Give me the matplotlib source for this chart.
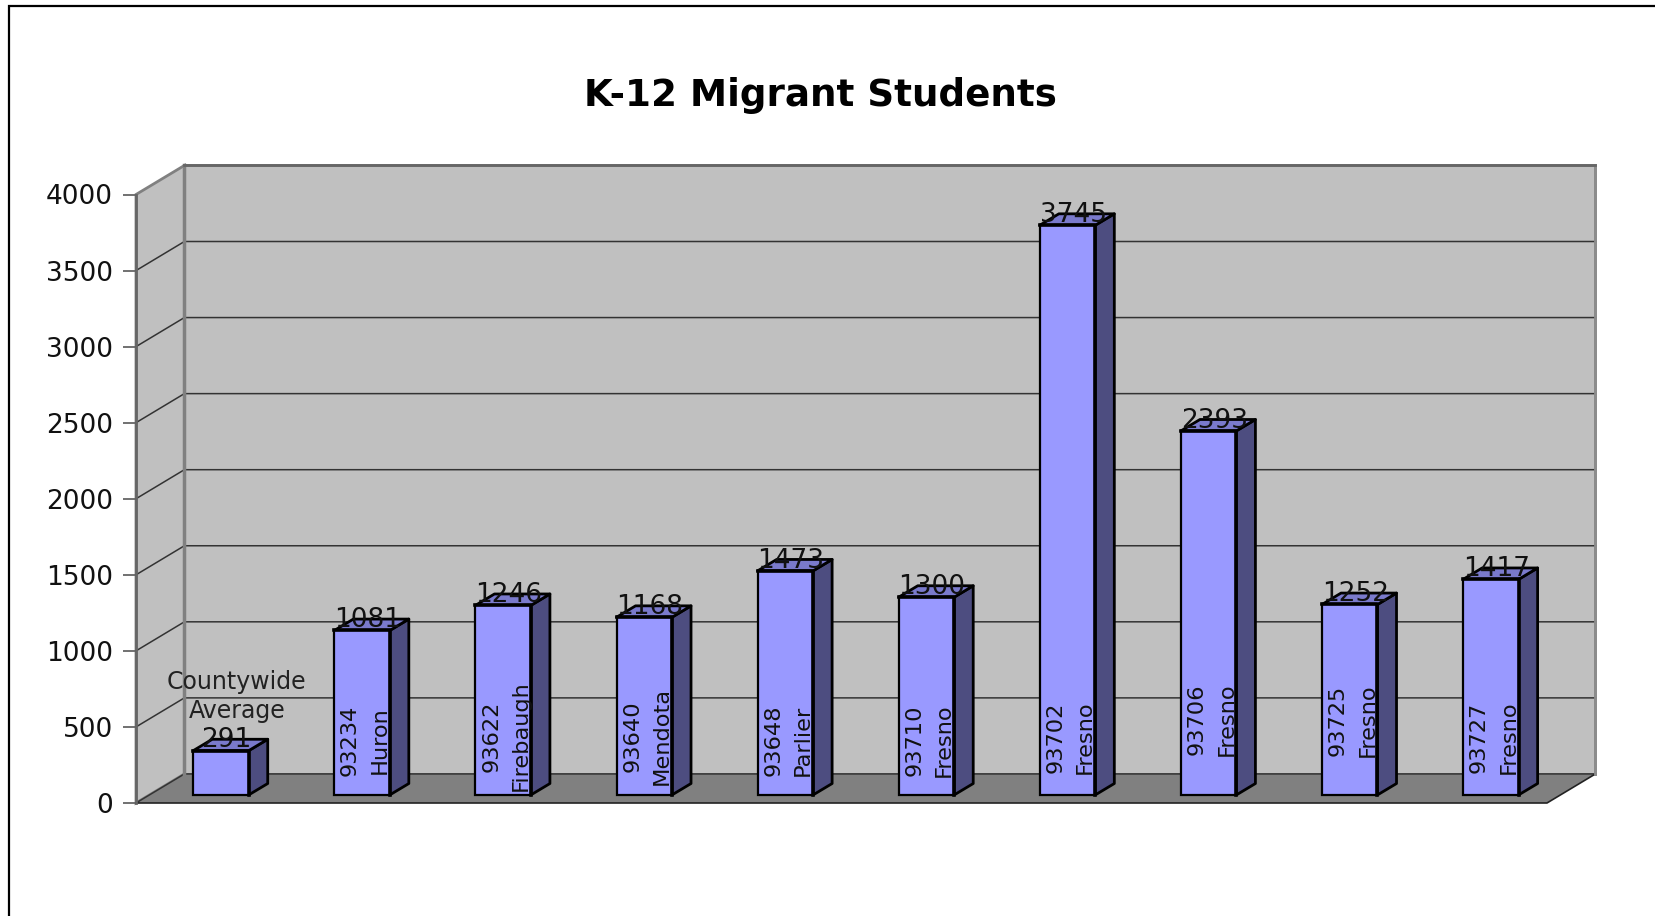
import matplotlib
matplotlib.use('Agg')
import matplotlib.pyplot as plt
from matplotlib.patches import Polygon, Rectangle

zips = ['', '93234', '93622', '93640', '93648', '93710', '93702', '93706', '93725', '93727']
towns = ['', 'Huron', 'Firebaugh', 'Mendota', 'Parlier', 'Fresno', 'Fresno', 'Fresno', 'Fresno', 'Fresno']
students = [291, 1081, 1246, 1168, 1473, 1300, 3745, 2393, 1252, 1417]
yticks = [0, 500, 1000, 1500, 2000, 2500, 3000, 3500, 4000]

W, H = 1655, 916
fig = plt.figure(figsize=(W / 100, H / 100), dpi=100, facecolor='white')

# frame round the whole chart, runs off the right and bottom
fig.add_artist(Rectangle((9 / W, -0.05), 1.1, 1.05 - 5.5 / H, transform=fig.transFigure,
                         fill=False, ec='black', lw=1.6))

ax = fig.add_axes([136 / W, 1 - 803 / H, 1411 / W, 608.5 / H])
ax.set_xlim(-0.5, 9.5)
ax.set_ylim(0, 4000)
ax.patch.set_visible(False)
for s in ax.spines.values():
    s.set_visible(False)

# oblique depth of the box and the bars, in data units
dx, dy = 0.343, 191
bar_w, bar_off = 0.393, 0.102
base = 53
side_x, side_y = 0.135, 75
x0, x1 = -0.5, 9.5
top = yticks[-1]

# walls and floor
ax.add_patch(Polygon([(x0 + dx, dy), (x1 + dx, dy), (x1 + dx, top + dy), (x0 + dx, top + dy)],
                     fc='#C0C0C0', ec='#808080', lw=2, clip_on=False, zorder=1))
ax.add_patch(Polygon([(x0, 0), (x0 + dx, dy), (x0 + dx, top + dy), (x0, top)],
                     fc='#C0C0C0', ec='#808080', lw=2, clip_on=False, zorder=1))
ax.add_patch(Polygon([(x0, 0), (x1, 0), (x1 + dx, dy), (x0 + dx, dy)],
                     fc='#808080', ec='none', clip_on=False, zorder=2))
ax.plot([x0, x1, x1 + dx], [0, 0, dy], color='#222222', lw=1.2, clip_on=False, zorder=3)

# gridlines go across the left wall then along the back
for t in yticks[:-1]:
    ax.plot([x0, x0 + dx, x1 + dx], [t, t + dy, t + dy], color='#333333', lw=1.1,
            clip_on=False, zorder=2.5)
ax.plot([x0, x0], [0, top], color='#666666', lw=2, clip_on=False, zorder=3)
ax.plot([x0 + dx, x0 + dx], [dy, top + dy], color='#808080', lw=2.5, clip_on=False, zorder=3)
ax.plot([x1 + dx, x1 + dx], [dy, top + dy], color='#8C8C8C', lw=2, clip_on=False, zorder=3)
ax.plot([x0 + dx, x1 + dx], [top + dy, top + dy], color='#666666', lw=2, clip_on=False, zorder=3)

ax.set_xticks([])
ax.set_yticks(yticks)
ax.tick_params(axis='y', length=9.5, width=1.3, color='#666666', pad=7, labelsize=19, labelcolor='#111111')

# middle of the rotated label on each bar, in value units
label_mid = [0, 414, 441, 441, 414, 414, 434, 552, 545, 434]

for i, v in enumerate(students):
    l = i + bar_off - bar_w / 2
    r = l + bar_w
    y0 = base
    y1 = base + v
    ax.add_patch(Polygon([(r, y0), (r + side_x, y0 + side_y), (r + side_x, y1 + side_y), (r, y1)],
                         fc='#4D4D80', ec='black', lw=2, joinstyle='round', zorder=5))
    ax.add_patch(Polygon([(l, y1), (r, y1), (r + side_x, y1 + side_y), (l + side_x, y1 + side_y)],
                         fc='#7A7ACC', ec='black', lw=2, joinstyle='round', zorder=5))
    ax.add_patch(Rectangle((l, y0), bar_w, v, fc='#9999FF', ec='black', lw=1.6, zorder=6))
    ax.plot([l, r, r], [y1, y1, y0], color='black', lw=2.6, zorder=6.5)
    ax.text(i + bar_off + 0.04, y1 + 68, str(v), ha='center', va='center', fontsize=19,
            color='#111111', zorder=8)
    if zips[i]:
        ax.text(i + bar_off - 0.085, label_mid[i], zips[i], rotation=90, ha='center', va='center',
                fontsize=16.2, color='#111111', zorder=8)
        ax.text(i + bar_off + 0.125, label_mid[i], towns[i], rotation=90, ha='center', va='center',
                fontsize=16.2, color='#111111', zorder=8)

ax.text(0.215, 700, 'Countywide\nAverage', ha='center', va='center', fontsize=17,
        color='#222222', linespacing=1.22, zorder=8)

fig.text(820 / W, 1 - 95 / H, 'K-12 Migrant Students', ha='center', va='center',
         fontsize=26.8, fontweight='bold', color='black')

fig.savefig('out.png', dpi=100)
